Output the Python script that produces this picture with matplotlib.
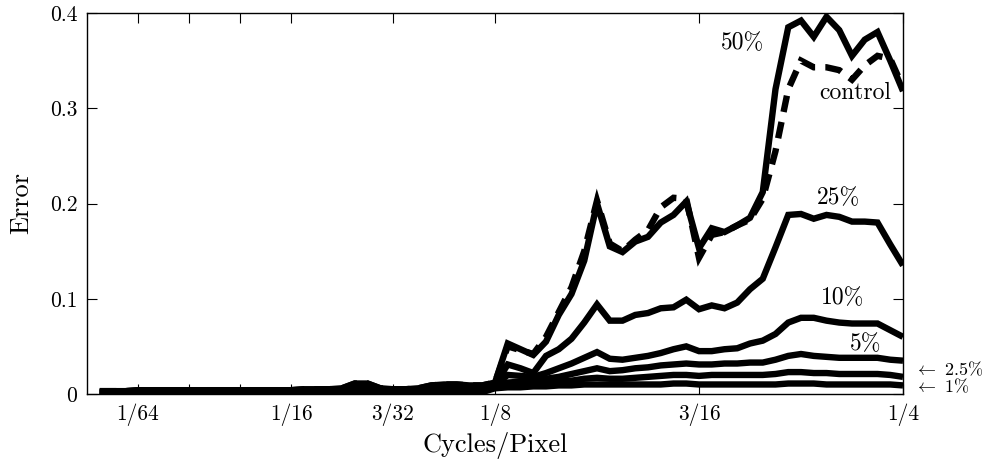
"""Error vs spatial frequency for several corruption levels (plus control)."""

import matplotlib

matplotlib.use("Agg")
import matplotlib.pyplot as plt
import numpy as np

# frequency samples: k / 256 cycles per pixel, k = 1..64
freq_index = list(range(1, 65))

err_50 = [
    0.003, 0.003, 0.003, 0.004, 0.004, 0.004, 0.004, 0.004, 0.004, 0.004,
    0.004, 0.004, 0.004, 0.004, 0.004, 0.004, 0.005, 0.005, 0.005, 0.006,
    0.011, 0.011, 0.006, 0.005, 0.005, 0.006, 0.009, 0.010, 0.010, 0.009,
    0.009, 0.012, 0.053, 0.047, 0.041, 0.055, 0.083, 0.105, 0.140, 0.200,
    0.155, 0.149, 0.160, 0.165, 0.180, 0.188, 0.202, 0.153, 0.174, 0.170,
    0.177, 0.185, 0.212, 0.320, 0.385, 0.392, 0.375, 0.396, 0.382, 0.355,
    0.372, 0.380, 0.350, 0.318,
]
err_control = [
    0.003, 0.003, 0.003, 0.004, 0.004, 0.004, 0.004, 0.004, 0.004, 0.004,
    0.004, 0.004, 0.004, 0.004, 0.004, 0.004, 0.005, 0.005, 0.005, 0.006,
    0.011, 0.011, 0.006, 0.005, 0.005, 0.006, 0.009, 0.010, 0.010, 0.009,
    0.009, 0.012, 0.050, 0.046, 0.042, 0.060, 0.086, 0.112, 0.150, 0.203,
    0.158, 0.150, 0.162, 0.172, 0.196, 0.206, 0.205, 0.143, 0.167, 0.170,
    0.177, 0.183, 0.205, 0.255, 0.320, 0.350, 0.343, 0.343, 0.340, 0.330,
    0.345, 0.355, 0.352, 0.322,
]
err_25 = [
    0.002, 0.002, 0.002, 0.003, 0.003, 0.003, 0.003, 0.003, 0.003, 0.003,
    0.003, 0.003, 0.003, 0.003, 0.003, 0.003, 0.003, 0.004, 0.004, 0.005,
    0.008, 0.008, 0.005, 0.004, 0.004, 0.005, 0.007, 0.008, 0.008, 0.007,
    0.007, 0.010, 0.031, 0.027, 0.022, 0.040, 0.047, 0.058, 0.075, 0.094,
    0.077, 0.077, 0.083, 0.085, 0.090, 0.091, 0.099, 0.089, 0.093, 0.090,
    0.096, 0.110, 0.121, 0.154, 0.188, 0.189, 0.184, 0.188, 0.186, 0.181,
    0.181, 0.180, 0.157, 0.135,
]
err_10 = [
    0.002, 0.002, 0.002, 0.002, 0.002, 0.002, 0.002, 0.002, 0.002, 0.002,
    0.002, 0.002, 0.002, 0.002, 0.002, 0.002, 0.003, 0.003, 0.003, 0.003,
    0.005, 0.005, 0.003, 0.003, 0.003, 0.004, 0.005, 0.006, 0.006, 0.005,
    0.005, 0.009, 0.020, 0.019, 0.018, 0.022, 0.027, 0.032, 0.038, 0.044,
    0.037, 0.036, 0.038, 0.040, 0.043, 0.047, 0.050, 0.045, 0.045, 0.047,
    0.048, 0.053, 0.056, 0.063, 0.075, 0.080, 0.080, 0.077, 0.075, 0.074,
    0.074, 0.074, 0.067, 0.060,
]
err_5 = [
    0.002, 0.002, 0.002, 0.002, 0.002, 0.002, 0.002, 0.002, 0.002, 0.002,
    0.002, 0.002, 0.002, 0.002, 0.002, 0.002, 0.002, 0.002, 0.002, 0.003,
    0.004, 0.004, 0.003, 0.003, 0.003, 0.003, 0.004, 0.005, 0.005, 0.004,
    0.004, 0.008, 0.012, 0.013, 0.014, 0.016, 0.018, 0.021, 0.024, 0.027,
    0.024, 0.025, 0.027, 0.028, 0.030, 0.031, 0.032, 0.031, 0.031, 0.032,
    0.032, 0.033, 0.033, 0.036, 0.040, 0.042, 0.040, 0.039, 0.038, 0.038,
    0.038, 0.038, 0.036, 0.035,
]
err_2_5 = [
    0.001, 0.001, 0.001, 0.001, 0.001, 0.001, 0.001, 0.001, 0.001, 0.001,
    0.001, 0.001, 0.001, 0.001, 0.001, 0.001, 0.001, 0.001, 0.002, 0.002,
    0.003, 0.003, 0.002, 0.002, 0.002, 0.002, 0.003, 0.003, 0.003, 0.003,
    0.003, 0.007, 0.009, 0.010, 0.010, 0.012, 0.013, 0.014, 0.016, 0.017,
    0.016, 0.016, 0.017, 0.018, 0.019, 0.020, 0.020, 0.019, 0.020, 0.020,
    0.020, 0.020, 0.020, 0.021, 0.023, 0.023, 0.022, 0.022, 0.021, 0.021,
    0.021, 0.021, 0.020, 0.018,
]
err_1 = [
    0.001, 0.001, 0.001, 0.001, 0.001, 0.001, 0.001, 0.001, 0.001, 0.001,
    0.001, 0.001, 0.001, 0.001, 0.001, 0.001, 0.001, 0.001, 0.001, 0.001,
    0.002, 0.002, 0.001, 0.001, 0.001, 0.001, 0.002, 0.002, 0.002, 0.002,
    0.002, 0.006, 0.007, 0.007, 0.008, 0.008, 0.009, 0.009, 0.010, 0.010,
    0.010, 0.010, 0.010, 0.010, 0.010, 0.011, 0.011, 0.010, 0.010, 0.010,
    0.010, 0.010, 0.010, 0.010, 0.011, 0.011, 0.011, 0.010, 0.010, 0.010,
    0.010, 0.010, 0.010, 0.009,
]

# x ticks (in 1/256 units) and which of them get a label
xtick_index = [4, 8, 12, 16, 24, 32, 48, 64]
xtick_labels = ["1/64", "", "", "1/16", "3/32", "1/8", "3/16", "1/4"]
ytick_values = [0.0, 0.1, 0.2, 0.3, 0.4]
ytick_labels = ["0", "0.1", "0.2", "0.3", "0.4"]

# inline curve labels: (text, x, y) in data coords
curve_labels = [
    ("50%", 0.2007, 0.3685),
    ("control", 0.2353, 0.3160),
    ("25%", 0.2301, 0.2058),
    ("10%", 0.2316, 0.1008),
    ("5%", 0.2384, 0.0525),
]
edge_labels = [
    (r"$\leftarrow$ 2.5%", 0.0265),
    (r"$\leftarrow$ 1%", 0.0080),
]


def main():
    plt.rcParams["font.family"] = "cmr10"
    plt.rcParams["mathtext.fontset"] = "cm"
    plt.rcParams["axes.unicode_minus"] = False

    freqs = np.array(freq_index) / 256.0

    fig = plt.figure(figsize=(9.89, 4.66), dpi=100)
    ax = fig.add_axes([87 / 989, 72 / 466, 816 / 989, 381 / 466])

    lw = 4.6
    solid = dict(color="black", lw=lw, solid_joinstyle="miter", solid_capstyle="butt")
    for series in (err_1, err_2_5, err_5, err_10, err_25, err_50):
        ax.plot(freqs, series, **solid)
    ax.plot(
        freqs, err_control, color="black", lw=lw, linestyle=(0, (2.6, 1.6)),
        dash_capstyle="butt", dash_joinstyle="miter",
    )

    ax.set_xlim(0, 0.25)
    ax.set_ylim(0, 0.4)
    ax.set_xticks(np.array(xtick_index) / 256.0)
    ax.set_xticklabels(xtick_labels)
    ax.set_yticks(ytick_values)
    ax.set_yticklabels(ytick_labels)
    ax.tick_params(
        direction="in", length=7, width=0.8, labelsize=15.5,
        top=True, right=True, pad=7,
    )
    for spine in ax.spines.values():
        spine.set_linewidth(1.0)

    ax.set_xlabel("Cycles/Pixel", fontsize=19, labelpad=4)
    ax.set_ylabel("Error", fontsize=19, labelpad=12)

    for text, x, y in curve_labels:
        ax.text(x, y, text, fontsize=17, ha="center", va="center")
    # the two smallest curves are labelled just outside the right spine
    for text, y in edge_labels:
        ax.text(0.2535, y, text, fontsize=13, ha="left", va="center", clip_on=False)

    fig.savefig("out.png", dpi=100)
    plt.close(fig)


if __name__ == "__main__":
    main()
